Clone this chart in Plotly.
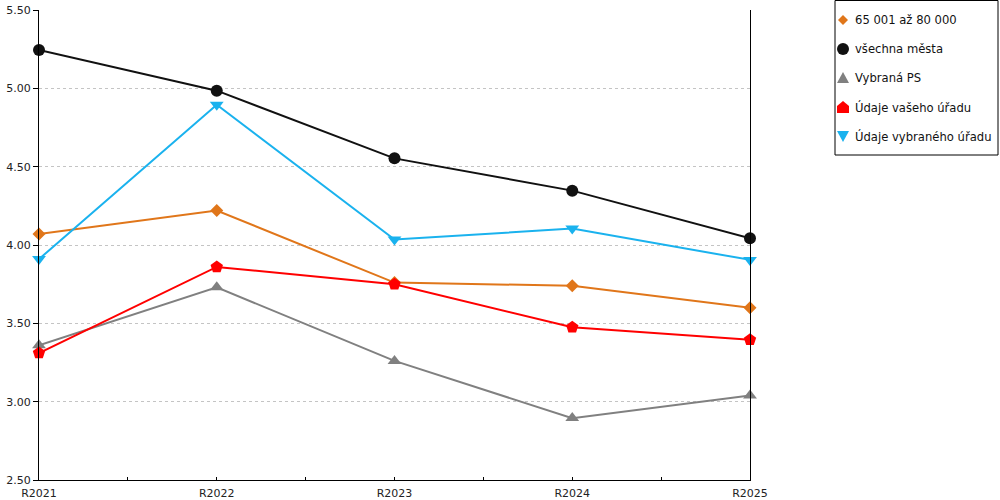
import plotly.graph_objects as go

years = ["R2021", "R2022", "R2023", "R2024", "R2025"]

skupina = [4.07, 4.22, 3.76, 3.74, 3.60]
vsechna_mesta = [5.245, 4.985, 4.553, 4.347, 4.043]
vybrana_ps = [3.36, 3.73, 3.26, 2.895, 3.04]
vas_urad = [3.31, 3.86, 3.75, 3.475, 3.395]
vybrany_urad = [3.91, 4.895, 4.035, 4.105, 3.905]

series = [
    ("65 001 až 80 000", skupina, "#E0761A", "diamond", 10),
    ("všechna města", vsechna_mesta, "#111111", "circle", 12),
    ("Vybraná PS", vybrana_ps, "#808080", "triangle-up", 12),
    ("Údaje vašeho úřadu", vas_urad, "#FF0000", "pentagon", 13),
    ("Údaje vybraného úřadu", vybrany_urad, "#1AB2EE", "triangle-down", 12),
]

# legend glyph outlines in pixels around the anchor (y up)
legend_paths = {
    "diamond": "M0,5 L5,0 L0,-5 L-5,0 Z",
    "circle": None,
    "triangle-up": "M-6,-5 L6,-5 L0,6 Z",
    "pentagon": "M-6,-6 L6,-6 L6,1 L0,6 L-6,1 Z",
    "triangle-down": "M-6,5 L6,5 L0,-6 Z",
}

W, H = 1000, 500
px_left, px_right, px_top, px_bottom = 39, 750, 10, 480

xpos = list(range(len(years)))
tickvals = [i / 2 for i in range(2 * len(years) - 1)]
ticktext = [years[i // 2] if i % 2 == 0 else "" for i in range(2 * len(years) - 1)]


def paper_x(sx):
    return (sx - px_left) / (px_right - px_left)


def paper_y(sy):
    return (px_bottom - sy) / (px_bottom - px_top)


fig = go.Figure()
for name, vals, color, symbol, size in series:
    fig.add_trace(go.Scatter(
        x=xpos, y=vals, mode="lines+markers", showlegend=False, name=name,
        line=dict(color=color, width=2),
        marker=dict(color=color, symbol=symbol, size=size),
        cliponaxis=False,
    ))

# hand-made legend box
row_y = [20 + 29 * i for i in range(len(series))]
for (name, vals, color, symbol, size), ry in zip(series, row_y):
    anchor = dict(xref="paper", yref="paper", xsizemode="pixel", ysizemode="pixel",
                  xanchor=paper_x(843), yanchor=paper_y(ry),
                  fillcolor=color, line=dict(width=0))
    if legend_paths[symbol] is None:
        fig.add_shape(type="circle", x0=-6, x1=6, y0=-6, y1=6, **anchor)
    else:
        fig.add_shape(type="path", path=legend_paths[symbol], **anchor)
    fig.add_annotation(x=paper_x(853), y=paper_y(ry), xref="paper", yref="paper",
                       text=name, showarrow=False, xanchor="left", yanchor="middle",
                       font=dict(size=11.6, color="#111"))
fig.add_shape(type="rect", xref="paper", yref="paper",
              x0=paper_x(835), x1=paper_x(998), y0=paper_y(155), y1=paper_y(0.5),
              line=dict(color="black", width=1), fillcolor="rgba(0,0,0,0)")

fig.update_layout(
    width=W, height=H,
    margin=dict(l=px_left, r=W - px_right, t=px_top, b=H - px_bottom),
    plot_bgcolor="white", paper_bgcolor="white",
    font=dict(family="DejaVu Sans, Verdana, sans-serif", size=11, color="#222"),
    showlegend=False,
    xaxis=dict(
        range=[0, 4], tickvals=tickvals, ticktext=ticktext,
        showgrid=False, zeroline=False, automargin=False,
        showline=True, linecolor="black", linewidth=1,
        ticks="inside", ticklen=3, tickcolor="black", ticklabelstandoff=3,
    ),
    xaxis2=dict(
        overlaying="x", matches="x", range=[0, 4], tickvals=tickvals,
        showticklabels=False, showgrid=False, zeroline=False, automargin=False,
        ticks="outside", ticklen=7, tickcolor="black",
    ),
    yaxis=dict(
        range=[2.5, 5.5], dtick=0.5, tickformat=".2f", automargin=False,
        showgrid=True, gridcolor="#c4c4c4", griddash="dot", gridwidth=1,
        zeroline=False,
        showline=True, linecolor="black", linewidth=1, mirror=True,
        ticks="outside", ticklen=5, tickcolor="black",
    ),
)

# the page body would otherwise shift the chart by 8 px
fig.write_html("out.html", config={"displayModeBar": False},
               post_script="document.body.style.margin='0';")
